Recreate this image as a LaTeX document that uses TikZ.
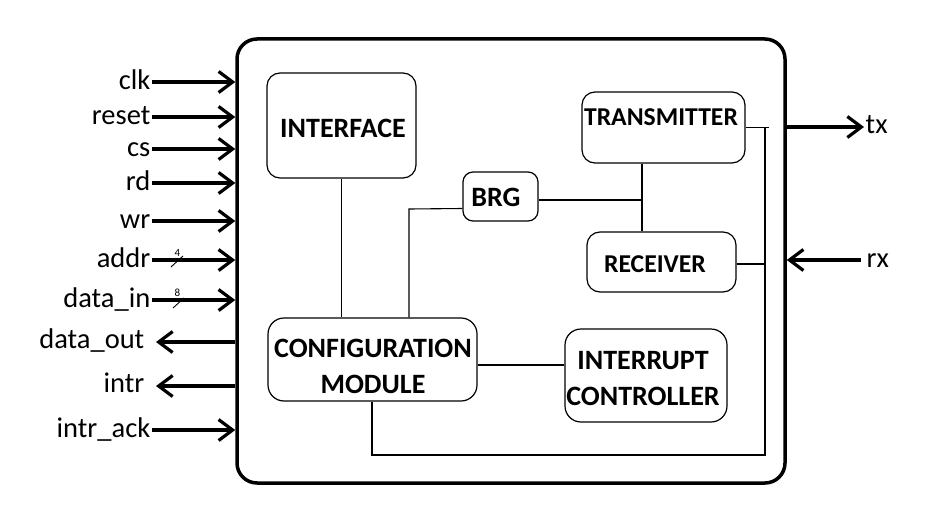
\documentclass[tikz,border=0pt]{standalone}
\usepackage{fontspec}
\setmainfont{Carlito}
\usetikzlibrary{arrows.meta}
\newcommand\lblfont{\fontsize{28.5}{33}\selectfont}
\newcommand\blkfont{\fontsize{28}{36}\selectfont\bfseries}
\newcommand\blkfontb{\fontsize{25.7}{30}\selectfont\bfseries}
\begin{document}
\begin{tikzpicture}[x=1pt,y=-1pt,
  sig/.style={line width=3.2pt,-{Straight Barb[length=14pt,width=21pt]}},
  inlbl/.style={font=\lblfont,inner sep=1.5pt,anchor=base east},
  outlbl/.style={font=\lblfont,inner sep=1.5pt,anchor=base west},
  blk/.style={draw,line width=1.2pt,rounded corners=13pt,inner sep=0pt},
  wire/.style={line width=1.1pt},
  buslbl/.style={font=\fontsize{11}{11}\selectfont,inner sep=0pt}]
\useasboundingbox[fill=white] (0,0) rectangle (950,527);
% main box
\node[draw,line width=3.5pt,rounded corners=20pt,minimum width=548pt,minimum height=444pt] (main) at (511,261) {};
% blocks
\node[blk,minimum width=149pt,minimum height=105pt] (iface) at (341.5,125.5) {};
\node[blk,minimum width=75pt,minimum height=49pt,rounded corners=10pt] (brg) at (500.5,196.5) {};
\node[blk,minimum width=163pt,minimum height=71pt] (txb) at (663.5,127.5) {};
\node[blk,minimum width=149pt,minimum height=60pt] (rxb) at (661.5,262) {};
\node[blk,minimum width=209pt,minimum height=83pt,rounded corners=16pt] (cfg) at (372.5,359.5) {};
\node[blk,minimum width=162pt,minimum height=93pt,rounded corners=16pt] (intc) at (646,375.5) {};
% block texts
\node[font=\blkfont] (tiface) at (343,128) {INTERFACE};
\node[font=\blkfont] (tbrg) at (496,197) {BRG};
\node[font=\blkfontb] (ttx) at (661,117) {TRANSMITTER};
\node[font=\blkfontb] (trx) at (655,264) {RECEIVER};
\node[font=\blkfont,align=center] (tcfg) at (373,366) {CONFIGURATION\\MODULE};
\node[font=\blkfont,align=center] (tintc) at (643,379) {INTERRUPT\\CONTROLLER};
% internal wires
\coordinate (bj) at (409,209);
\coordinate (tj) at (642,200);
\coordinate (bus) at (765,455);
\coordinate (cb) at (372,455);
\draw[wire] (iface.south) -- (iface.south |- cfg.north);
\draw[wire] ([yshift=-12pt]brg.west) -- (bj) -- (bj |- cfg.north);
\draw[wire] ([yshift=-3.5pt]brg.east) -- (tj);
\draw[wire] (txb.south -| tj) -- (rxb.north -| tj);
\draw[wire] ([yshift=-5.5pt]cfg.east) -- ([yshift=-5.5pt]cfg.east -| intc.west);
\draw[wire] (cfg.south -| cb) -- (cb) -- (bus) -- (bus |- txb.east) -- ([xshift=4pt]bus |- txb.east) (bus |- txb.east) -- (txb.east);
\draw[wire] ([yshift=-2pt]rxb.east) -- ([yshift=-2pt]rxb.east -| bus);
% inputs
\foreach \n/\t/\y in {clk/clk/82,reset/reset/117,cs/cs/149,rd/rd/183,wr/wr/221,addr/addr/260,din/data\_in/300,iack/intr\_ack/430}{
  \node[inlbl] (\n) at (152,\y+7) {\t};
  \draw[sig] ([yshift=7pt]\n.base east) -- ([yshift=7pt]\n.base east -| main.west);
}
% outputs
\foreach \n/\t/\y in {dout/data\_out/342,intr/intr/386}{
  \node[inlbl] (\n) at (146,\y+6) {\t};
  \draw[sig] ([yshift=6pt]\n.base east -| main.west) -- ([xshift=10pt,yshift=6pt]\n.base east);
}
% bus marks
\node[buslbl] (b4) at (177.5,253) {4};
\draw[line width=0.9pt] ([xshift=-6.5pt,yshift=-14pt]b4.center) -- ([xshift=5.5pt,yshift=-3pt]b4.center);
\node[buslbl] (b8) at (177.5,293) {8};
\draw[line width=0.9pt] ([xshift=-4.5pt,yshift=-15pt]b8.center) -- ([xshift=6.5pt,yshift=-5pt]b8.center);
% right side
\node[outlbl] (tx) at (864,133) {tx};
\draw[sig] ([yshift=6pt]tx.base west -| main.east) -- ([yshift=6pt]tx.base west);
\node[outlbl] (rx) at (865,267) {rx};
\draw[sig] ([xshift=-4pt,yshift=7pt]rx.base west) -- ([yshift=7pt]rx.base west -| main.east);
\end{tikzpicture}
\end{document}
